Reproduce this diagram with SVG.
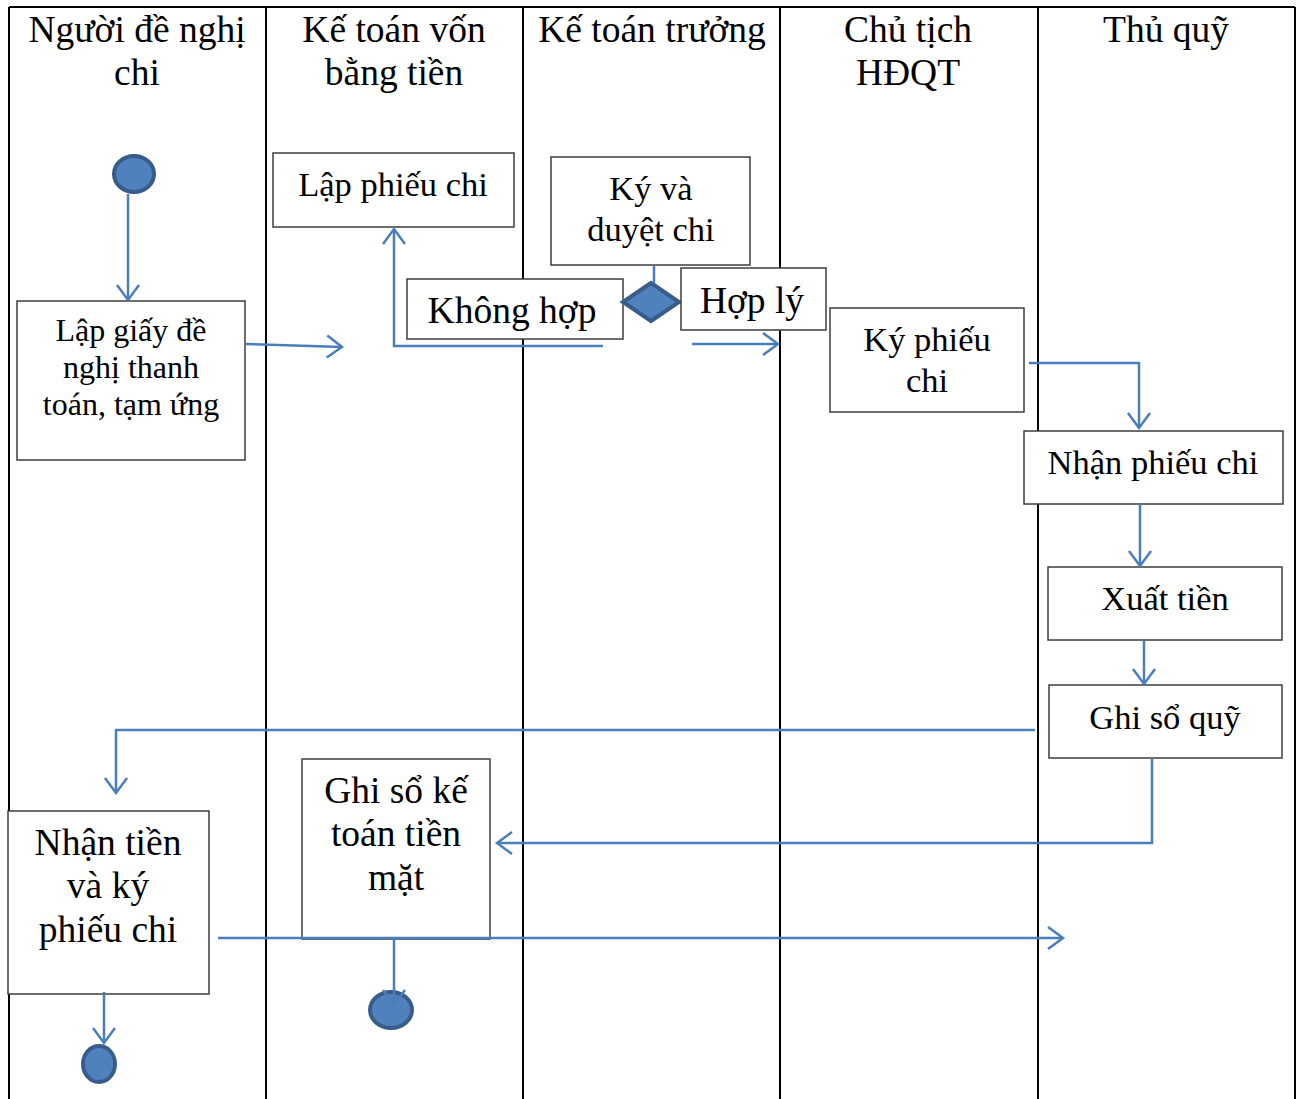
<svg xmlns="http://www.w3.org/2000/svg" width="1298" height="1099" viewBox="0 0 1298 1099">
  <style>
    .lane { stroke: #000; stroke-width: 2; fill: none; }
    .box { fill: #fff; stroke: #3c3c3c; stroke-width: 1.5; }
    .txt { font-family: "Liberation Serif", "Times New Roman", serif; fill: #000; text-anchor: middle; }
    .hdr { font-size: 37.5px; }
    .md { font-size: 34.5px; }
    .lg { font-size: 37.5px; }
    .dot { fill: #4f81bd; stroke: #385d8a; stroke-width: 4; }
    .flow { fill: none; stroke: #4a7ebb; stroke-width: 2.5; }
  </style>
  <defs>
    <marker id="arrow" viewBox="0 0 16 24" refX="15" refY="12" markerWidth="16" markerHeight="24" markerUnits="userSpaceOnUse" orient="auto" overflow="visible">
      <path d="M0,1 L15,12 L0,23" fill="none" stroke="#4a7ebb" stroke-width="2.5"/>
    </marker>
  </defs>
  <rect width="1298" height="1099" fill="#fff"/>

  <!-- swimlanes -->
  <g id="lanes">
    <line class="lane" x1="9" y1="7" x2="1295" y2="7"/>
    <line class="lane" x1="9" y1="7" x2="9" y2="1099"/>
    <line class="lane" x1="266" y1="7" x2="266" y2="1099"/>
    <line class="lane" x1="523" y1="7" x2="523" y2="1099"/>
    <line class="lane" x1="780" y1="7" x2="780" y2="1099"/>
    <line class="lane" x1="1038" y1="7" x2="1038" y2="1099"/>
    <line class="lane" x1="1295" y1="7" x2="1295" y2="1099"/>
    <text class="txt hdr" x="137" y="42">Người đề nghị</text>
    <text class="txt hdr" x="137" y="85">chi</text>
    <text class="txt hdr" x="394" y="42">Kế toán vốn</text>
    <text class="txt hdr" x="394" y="85">bằng tiền</text>
    <text class="txt hdr" x="652" y="42">Kế toán trưởng</text>
    <text class="txt hdr" x="908" y="42">Chủ tịch</text>
    <text class="txt hdr" x="908" y="85">HĐQT</text>
    <text class="txt hdr" x="1166" y="42">Thủ quỹ</text>
  </g>

  <!-- nodes -->
  <g id="start">
    <ellipse class="dot" cx="134" cy="174" rx="20" ry="18"/>
  </g>
  <g id="lap-giay-de-nghi">
    <rect class="box" x="17" y="301" width="228" height="159"/>
    <text class="txt" font-size="32" x="131" y="341">Lập giấy đề</text>
    <text class="txt" font-size="32" x="131" y="378">nghị thanh</text>
    <text class="txt" font-size="32" x="131" y="415">toán, tạm ứng</text>
  </g>
  <g id="lap-phieu-chi">
    <rect class="box" x="273" y="153" width="241" height="74"/>
    <text class="txt md" x="393" y="196">Lập phiếu chi</text>
  </g>
  <g id="ky-duyet-chi">
    <rect class="box" x="551" y="157" width="199" height="108"/>
    <text class="txt md" x="651" y="200">Ký và</text>
    <text class="txt md" x="651" y="241">duyệt chi</text>
  </g>
  <g id="khong-hop">
    <rect class="box" x="407" y="279" width="216" height="60"/>
    <text class="txt lg" x="512" y="323">Không hợp</text>
  </g>
  <g id="decision">
    <polygon class="dot" points="623,302 651,283 679,302 651,321"/>
  </g>
  <g id="hop-ly">
    <rect class="box" x="681" y="268" width="145" height="62"/>
    <text class="txt lg" x="752" y="313">Hợp lý</text>
  </g>
  <g id="ky-phieu-chi">
    <rect class="box" x="830" y="308" width="194" height="104"/>
    <text class="txt md" x="927" y="351">Ký phiếu</text>
    <text class="txt md" x="927" y="392">chi</text>
  </g>
  <g id="nhan-phieu-chi">
    <rect class="box" x="1024" y="431" width="259" height="73"/>
    <text class="txt md" x="1153" y="474">Nhận phiếu chi</text>
  </g>
  <g id="xuat-tien">
    <rect class="box" x="1048" y="567" width="234" height="73"/>
    <text class="txt md" x="1165" y="610">Xuất tiền</text>
  </g>
  <g id="ghi-so-quy">
    <rect class="box" x="1049" y="685" width="233" height="73"/>
    <text class="txt md" x="1165" y="729">Ghi sổ quỹ</text>
  </g>
  <g id="nhan-tien">
    <rect class="box" x="8" y="811" width="201" height="183"/>
    <text class="txt lg" x="108" y="855">Nhận tiền</text>
    <text class="txt lg" x="108" y="898">và ký</text>
    <text class="txt lg" x="108" y="942">phiếu chi</text>
  </g>
  <g id="ghi-so-ke-toan">
    <rect class="box" x="302" y="759" width="188" height="180"/>
    <text class="txt lg" x="396" y="803">Ghi sổ kế</text>
    <text class="txt lg" x="396" y="846">toán tiền</text>
    <text class="txt lg" x="396" y="890">mặt</text>
  </g>
  <g id="end-1">
    <ellipse class="dot" cx="99" cy="1064" rx="16" ry="18"/>
  </g>
  <g id="end-2">
    <ellipse class="dot" cx="391" cy="1010" rx="21" ry="18"/>
  </g>

  <!-- connectors -->
  <g id="connectors">
    <path class="flow" d="M128,194 L128,300" marker-end="url(#arrow)"/>
    <path class="flow" d="M246,344 L342,347" marker-end="url(#arrow)"/>
    <path class="flow" d="M603,346 L394,346 L394,229" marker-end="url(#arrow)"/>
    <path class="flow" d="M654,266 L654,283"/>
    <path class="flow" d="M692,344 L778,344" marker-end="url(#arrow)"/>
    <path class="flow" d="M1029,363 L1139,363 L1139,428" marker-end="url(#arrow)"/>
    <path class="flow" d="M1140,503 L1140,566" marker-end="url(#arrow)"/>
    <path class="flow" d="M1144,641 L1144,684" marker-end="url(#arrow)"/>
    <path class="flow" d="M1035,730 L116,730 L116,793" marker-end="url(#arrow)"/>
    <path class="flow" d="M1152,759 L1152,843 L497,843" marker-end="url(#arrow)"/>
    <path class="flow" d="M218,938 L1063,938" marker-end="url(#arrow)"/>
    <path class="flow" d="M394,939 L394,1005" marker-end="url(#arrow)"/>
    <path class="flow" d="M104,992 L104,1043" marker-end="url(#arrow)"/>
  </g>
</svg>
